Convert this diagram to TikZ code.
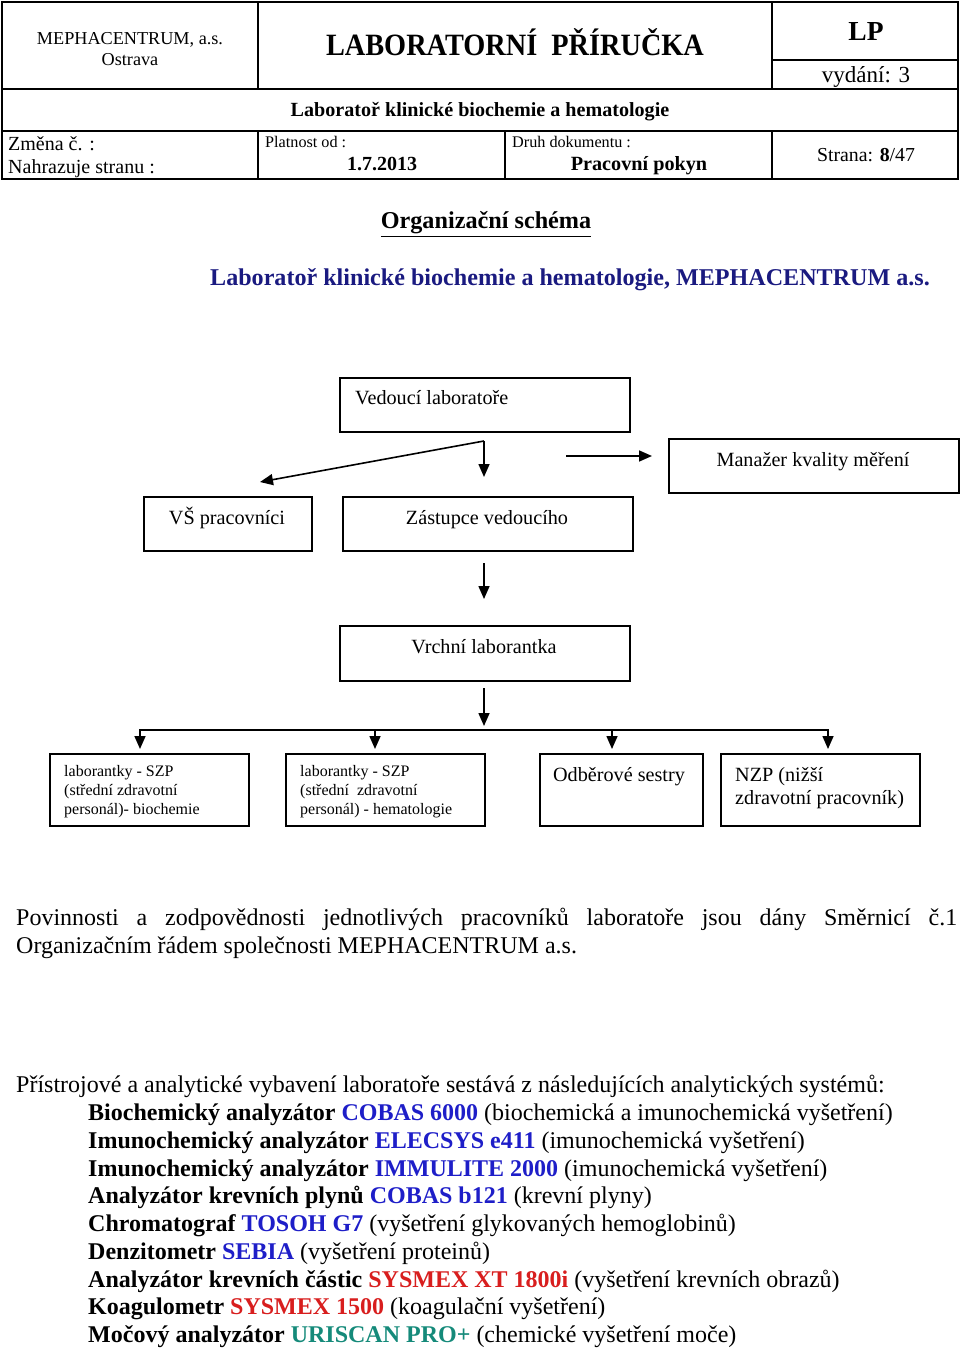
\documentclass[tikz,border=0pt]{standalone}
\usepackage{fontspec}
\setmainfont{Liberation Serif}
\usetikzlibrary{arrows.meta}
\definecolor{navy}{HTML}{1A1A80}
\definecolor{devblue}{HTML}{1E1EC8}
\definecolor{devred}{HTML}{D81E1E}
\definecolor{devteal}{HTML}{158A7A}
\newcommand{\fs}[1]{\fontsize{#1}{#1}\selectfont}
\begin{document}
\begin{tikzpicture}[x=1pt,y=-1pt,
  box/.style={draw, line width=1.6pt, inner sep=0pt, anchor=north west},
  arr/.style={line width=1.6pt, -{Triangle[length=13pt,width=11pt]}},
  tline/.style={line width=1.2pt},
  t/.style={inner sep=0pt, anchor=base},
  tw/.style={inner sep=0pt, anchor=base west}]
\useasboundingbox (0,0) rectangle (960,1351);
% ---------- header table ----------
\draw[tline] (2,2) rectangle (958,179);
\draw[tline] (258,2) -- (258,89);
\draw[tline] (772,2) -- (772,89);
\draw[tline] (772,60) -- (958,60);
\draw[tline] (2,89) -- (958,89);
\draw[tline] (2,131) -- (958,131);
\draw[tline] (258,131) -- (258,179);
\draw[tline] (505,131) -- (505,179);
\draw[tline] (772,131) -- (772,179);
\node[t] (h1) at (130,45) {\fs{18.2}MEPHACENTRUM, a.s.};
\node[t] (h2) at (130,66) {\fs{18.2}Ostrava};
\node[t] (h3) at (515,56) {\scalebox{0.913}[1]{\fs{31}\bfseries LABORATORNÍ\ \ PŘÍRUČKA}};
\node[t] (h4) at (866,41) {\fs{27.5}\bfseries LP};
\node[t] (h5) at (866,83) {\fs{23}vydání: 3};
\node[t] (h6) at (480,117) {\fs{20.1}\bfseries Laboratoř klinické biochemie a hematologie};
\node[tw] (h7) at (8,151) {\fs{20}Změna č. :};
\node[tw] (h8) at (8,174) {\fs{20}Nahrazuje stranu :};
\node[tw] (h9) at (265,148) {\fs{16.2}Platnost od :};
\node[t] (h10) at (382,171) {\fs{20}\bfseries 1.7.2013};
\node[tw] (h11) at (512,148) {\fs{16.2}Druh dokumentu :};
\node[t] (h12) at (639,171) {\fs{20.2}\bfseries Pracovní pokyn};
\node[t] (h13) at (866,162) {\fs{19.8}Strana: \textbf{8}/47};
% ---------- titles ----------
\node[t] (title) at (486,229) {\fs{24.2}\bfseries\underline{Organizační schéma}};
\node[t, text=navy] (sub) at (570,285) {\fs{24.1}\bfseries Laboratoř klinické biochemie a hematologie, MEPHACENTRUM a.s.};
% ---------- org chart ----------
\node[box, minimum width=290pt, minimum height=54pt] (ved) at (339,377) {};
\node[tw] (vedT) at (355,404) {\fs{20.2}Vedoucí laboratoře};
\node[box, minimum width=290pt, minimum height=54pt] (man) at (668,438) {};
\node[t] (manT) at (813,466) {\fs{20.2}Manažer kvality měření};
\node[box, minimum width=168pt, minimum height=54pt] (vs) at (143,496) {};
\node[t] (vsT) at (227,524) {\fs{20.2}VŠ pracovníci};
\node[box, minimum width=290pt, minimum height=54pt] (zas) at (342,496) {};
\node[t] (zasT) at (487,524) {\fs{20.2}Zástupce vedoucího};
\node[box, minimum width=290pt, minimum height=55pt] (vrc) at (339,625) {};
\node[t] (vrcT) at (484,653) {\fs{20.2}Vrchní laborantka};
\node[box, minimum width=199pt, minimum height=72pt] (b1) at (49,753) {};
\node[box, minimum width=199pt, minimum height=72pt] (b2) at (285,753) {};
\node[box, minimum width=163pt, minimum height=72pt] (b3) at (539,753) {};
\node[box, minimum width=199pt, minimum height=72pt] (b4) at (720,753) {};
\node[tw] (b1a) at (64,776) {\fs{16}laborantky - SZP};
\node[tw] (b1b) at (64,795) {\fs{16}(střední zdravotní};
\node[tw] (b1c) at (64,814) {\fs{16}personál)- biochemie};
\node[tw] (b2a) at (300,776) {\fs{16}laborantky - SZP};
\node[tw] (b2b) at (300,795) {\fs{16}(střední\ \ zdravotní};
\node[tw] (b2c) at (300,814) {\fs{16}personál) - hematologie};
\node[t] (b3a) at (619,781) {\fs{20.2}Odběrové sestry};
\node[tw] (b4a) at (735,781) {\fs{20.2}NZP (nižší};
\node[tw] (b4b) at (735,804) {\fs{20.2}zdravotní pracovník)};
% connectors
\coordinate (sp) at (484,441);
\coordinate (vsE) at (260,482);
\coordinate (zasE) at (484,477);
\coordinate (mS) at (566,456);
\coordinate (mE) at (652,456);
\draw[arr] (sp) -- (vsE);
\draw[arr] (sp) -- (zasE);
\draw[arr] (mS) -- (mE);
\coordinate (z1) at (484,563);
\coordinate (z2) at (484,599);
\draw[arr] (z1) -- (z2);
\coordinate (v1) at (484,688);
\coordinate (v2) at (484,726);
\draw[arr] (v1) -- (v2);
\draw[line width=1.6pt] (139.2,730) -- (828.8,730);
\foreach \xx in {140, 375, 612, 828}{
  \draw[arr] (\xx,729.2) -- (\xx,749);
}
% ---------- paragraph ----------
\node[tw] (p1) at (16,925) {\fs{24}\makebox[941pt][s]{Povinnosti a zodpovědnosti jednotlivých pracovníků laboratoře jsou dány Směrnicí č.1}};
\node[tw] (p2) at (16,953) {\fs{24}Organizačním řádem společnosti MEPHACENTRUM a.s.};
% ---------- equipment ----------
\node[tw] (e0) at (16,1092) {\fs{24}Přístrojové a analytické vybavení laboratoře sestává z následujících analytických systémů:};
\node[tw] (e1) at (88,1120) {\fs{24}\textbf{Biochemický analyzátor \textcolor{devblue}{COBAS 6000}} (biochemická a imunochemická vyšetření)};
\node[tw] (e2) at (88,1148) {\fs{24}\textbf{Imunochemický analyzátor \textcolor{devblue}{ELECSYS e411}} (imunochemická vyšetření)};
\node[tw] (e3) at (88,1176) {\fs{24}\textbf{Imunochemický analyzátor \textcolor{devblue}{IMMULITE 2000}} (imunochemická vyšetření)};
\node[tw] (e4) at (88,1203) {\fs{24}\textbf{Analyzátor krevních plynů \textcolor{devblue}{COBAS b121}} (krevní plyny)};
\node[tw] (e5) at (88,1231) {\fs{24}\textbf{Chromatograf \textcolor{devblue}{TOSOH G7}} (vyšetření glykovaných hemoglobinů)};
\node[tw] (e6) at (88,1259) {\fs{24}\textbf{Denzitometr \textcolor{devblue}{SEBIA}} (vyšetření proteinů)};
\node[tw] (e7) at (88,1287) {\fs{24}\textbf{Analyzátor krevních částic \textcolor{devred}{SYSMEX XT 1800i}} (vyšetření krevních obrazů)};
\node[tw] (e8) at (88,1314) {\fs{24}\textbf{Koagulometr \textcolor{devred}{SYSMEX 1500}} (koagulační vyšetření)};
\node[tw] (e9) at (88,1342) {\fs{24}\textbf{Močový analyzátor \textcolor{devteal}{URISCAN PRO+}} (chemické vyšetření moče)};
\end{tikzpicture}
\end{document}
